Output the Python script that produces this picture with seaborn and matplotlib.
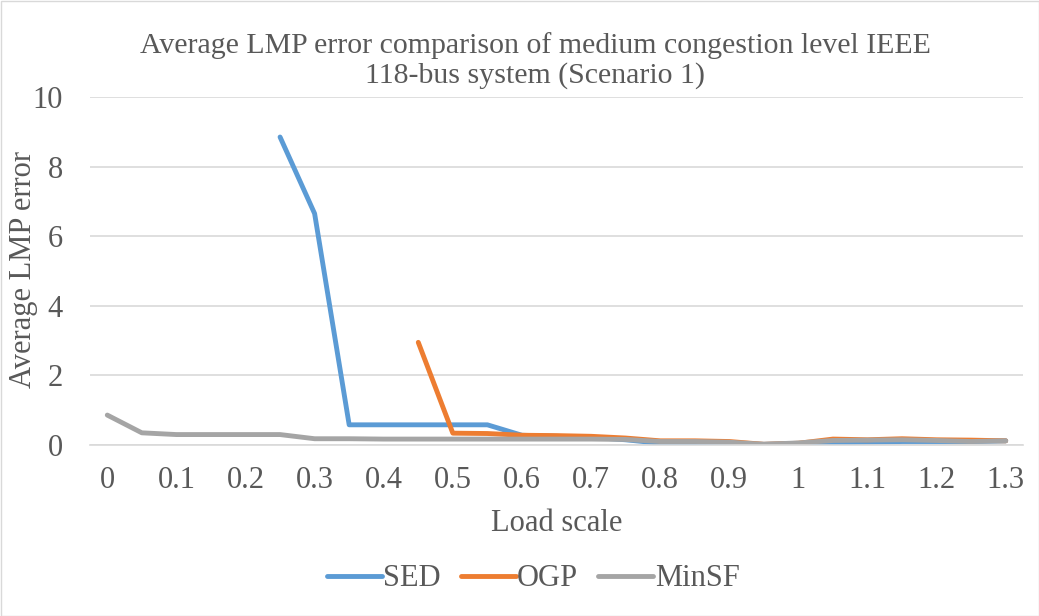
import numpy as np
import pandas as pd
import matplotlib
matplotlib.use("Agg")
import matplotlib.pyplot as plt
import seaborn as sns

load_scale = [0, 0.05, 0.1, 0.15, 0.2, 0.25, 0.3, 0.35, 0.4, 0.45, 0.5, 0.55, 0.6, 0.65,
              0.7, 0.75, 0.8, 0.85, 0.9, 0.95, 1.0, 1.05, 1.1, 1.15, 1.2, 1.25, 1.3]
nan = np.nan
sed = [nan, nan, nan, nan, nan, 8.85, 6.65, 0.58, 0.58, 0.58, 0.58, 0.58, 0.28, 0.25,
       0.22, 0.15, 0.05, 0.05, 0.04, 0.02, 0.04, 0.06, 0.08, 0.10, 0.10, 0.10, 0.12]
ogp = [nan, nan, nan, nan, nan, nan, nan, nan, nan, 2.95, 0.34, 0.33, 0.28, 0.27,
       0.25, 0.20, 0.12, 0.12, 0.10, 0.02, 0.05, 0.17, 0.15, 0.18, 0.15, 0.14, 0.12]
minsf = [0.86, 0.35, 0.30, 0.30, 0.30, 0.30, 0.18, 0.18, 0.17, 0.17, 0.17, 0.17, 0.17, 0.17,
         0.17, 0.16, 0.10, 0.10, 0.08, 0.02, 0.06, 0.13, 0.14, 0.15, 0.13, 0.10, 0.12]
series_names = ["SED", "OGP", "MinSF"]
colors = ["#5B9BD5", "#ED7D31", "#A5A5A5"]
xtick_vals = [0, 0.1, 0.2, 0.3, 0.4, 0.5, 0.6, 0.7, 0.8, 0.9, 1.0, 1.1, 1.2, 1.3]
xtick_labels = ["0", "0.1", "0.2", "0.3", "0.4", "0.5", "0.6", "0.7", "0.8", "0.9",
                "1", "1.1", "1.2", "1.3"]
title_text = "Average LMP error comparison of medium congestion level IEEE\n118-bus system (Scenario 1)"

df = pd.DataFrame({"Load scale": load_scale, "SED": sed, "OGP": ogp, "MinSF": minsf})
long = df.melt(id_vars="Load scale", var_name="Series", value_name="err").dropna()

sns.set_theme(style="white")
plt.rcParams["font.family"] = ["Liberation Serif", "DejaVu Serif"]

W, H = 1039, 616
fig = plt.figure(figsize=(W/100, H/100), dpi=100)
ax = fig.add_axes([90/W, 1-445/H, (1023-90)/W, (445-97)/H])

sns.lineplot(data=long, x="Load scale", y="err", hue="Series", hue_order=series_names,
             palette=colors, linewidth=3.5, ax=ax, legend=True, solid_capstyle="round")

ax.set_xlim(-0.025, 1.325)
ax.set_ylim(0, 10)
ax.set_yticks([0, 2, 4, 6, 8, 10])
ax.set_xticks(xtick_vals)
ax.set_xticklabels(xtick_labels)
ax.tick_params(axis="both", labelsize=22, colors="#595959", length=0)
ax.tick_params(axis="x", pad=15)
ax.tick_params(axis="y", pad=19.5)
ax.grid(axis="y", color="#D9D9D9", linewidth=1.2)
ax.set_axisbelow(True)
for s in ["top", "right", "left"]:
    ax.spines[s].set_visible(False)
ax.spines["bottom"].set_color("#D9D9D9")
ax.spines["bottom"].set_linewidth(1.2)

ax.set_xlabel("Load scale", fontsize=22, color="#595959", labelpad=10)
ax.set_ylabel("Average LMP error", fontsize=22, color="#595959")
ax.yaxis.set_label_coords((38-90)/933, (445-269)/348)
fig.text(535/W, 1-61/H, title_text, ha="center", va="center", fontsize=21.5,
         color="#595959", linespacing=1.15)

handles, labels = ax.get_legend_handles_labels()
ax.legend(handles, labels, loc="center", bbox_to_anchor=(533/W, (H-579)/H),
          bbox_transform=fig.transFigure, ncol=3, frameon=False, fontsize=22,
          labelcolor="#595959", handlelength=1.8, columnspacing=0.65, handletextpad=0.05)

fig.patches.append(plt.Rectangle((0.5/W, 0.5/H), 1-1/W, 1-1/H, transform=fig.transFigure,
                                 fill=False, edgecolor="#D9D9D9", linewidth=1))
fig.savefig("out.png", dpi=100, facecolor="white")
